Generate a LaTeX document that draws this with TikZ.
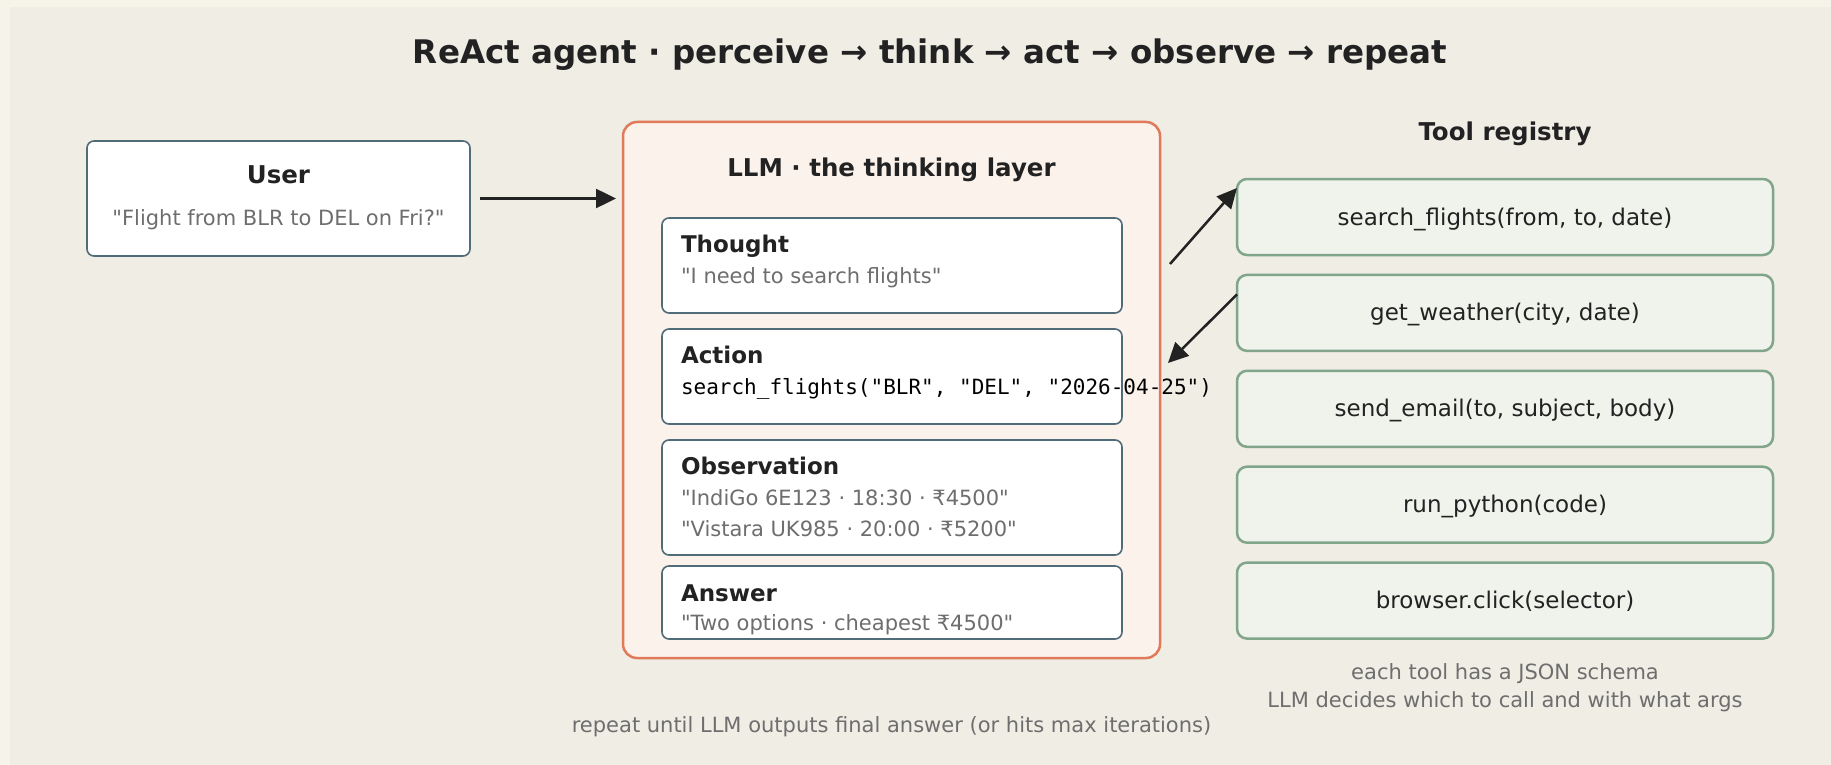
\documentclass[tikz,border=0pt]{standalone}
\usepackage{fontspec}
\setmainfont{DejaVu Sans}[Ligatures=TeXOff]
\setmonofont{DejaVu Sans Mono}
\usetikzlibrary{arrows.meta}

\definecolor{paper}{HTML}{F6F3E8}
\definecolor{panel}{HTML}{F0EDE5}
\definecolor{ink}{HTML}{222222}
\definecolor{muted}{HTML}{6E6E6E}
\definecolor{slate}{HTML}{506C78}
\definecolor{coral}{HTML}{E07A5A}
\definecolor{blush}{HTML}{FCF2EC}
\definecolor{sage}{HTML}{80A58B}
\definecolor{mint}{HTML}{EFF3EC}

\newcommand{\fsz}[1]{\fontsize{#1}{#1}\selectfont}

\begin{document}
\begin{tikzpicture}[x=1pt, y=-1pt,
            every node/.style = {inner sep = 0pt,
                                outer sep = 0pt,
                                text      = ink},
            card/.style       = {draw = slate, line width = 1.6pt,
                                fill = white, rounded corners = 7pt,
                                minimum width = 460pt},
            llmbox/.style     = {draw = coral, line width = 2.5pt,
                                fill = blush, rounded corners = 14pt},
            toolbox/.style    = {draw = sage, line width = 2.5pt,
                                fill = mint, rounded corners = 10pt,
                                minimum width  = 536pt,
                                minimum height = 76pt,
                                text height = 21pt, text depth = 5pt,
                                font = \fsz{23}},
            heading/.style    = {font = \bfseries\fsz{24.5}, anchor = base},
            label/.style      = {font = \bfseries\fsz{23}, anchor = base west},
            quote/.style      = {font = \fsz{21}, text = muted, anchor = base west},
            code/.style       = {font = \ttfamily\fsz{21}, text = black, anchor = base west},
            note/.style       = {font = \fsz{21}, text = muted, anchor = base},
            flow/.style       = {draw = ink, line width = 2.5pt,
                                -{Triangle[length = 20pt, width = 19pt]}}
            ]
    % canvas
    \fill[paper] (0,0) rectangle (1831,765);
    \fill[panel] (10,7) rectangle (1831,765);
    \useasboundingbox (0,0) rectangle (1831,765);

    \node[font = \bfseries\fsz{32.5}, anchor = base] (title) at (930,63.5)
        {ReAct agent · perceive → think → act → observe → repeat};

    % user
    \node[card, minimum width = 383pt, minimum height = 115pt] (user) at (278.5,198.5) {};
    \node[heading] (usertitle) at ([shift={(0,42)}]user.north) {User};
    \node[note] (userq) at ([shift={(0,84)}]user.north) {"Flight from BLR to DEL on Fri?"};

    % llm with the reasoning trace
    \node[llmbox, minimum width = 537pt, minimum height = 536pt] (llm) at (891.5,390) {};
    \node[heading] (llmtitle) at ([shift={(0,54)}]llm.north) {LLM · the thinking layer};

    \node[card, minimum height = 95pt]  (thought) at (892,265.5) {};
    \node[card, minimum height = 95pt]  (action)  at (892,376.5) {};
    \node[card, minimum height = 115pt] (observe) at (892,497.5) {};
    \node[card, minimum height = 73pt]  (answer)  at (892,602.5) {};

    \node[label] (thoughtlbl) at ([shift={(19,34)}]thought.north west) {Thought};
    \node[quote] (thoughttxt) at ([shift={(19,65)}]thought.north west) {"I need to search flights"};
    \node[label] (actionlbl)  at ([shift={(19,34)}]action.north west) {Action};
    \node[code]  (actiontxt)  at ([shift={(19,65)}]action.north west)
        {search\_flights("BLR", "DEL", "2026-04-25")};
    \node[label] (observelbl) at ([shift={(19,34)}]observe.north west) {Observation};
    \node[quote] (observea)   at ([shift={(19,65)}]observe.north west) {"IndiGo 6E123 · 18:30 · ₹4500"};
    \node[quote] (observeb)   at ([shift={(19,96)}]observe.north west) {"Vistara UK985 · 20:00 · ₹5200"};
    \node[label] (answerlbl)  at ([shift={(19,35)}]answer.north west) {Answer};
    \node[quote] (answertxt)  at ([shift={(19,64.5)}]answer.north west) {"Two options · cheapest ₹4500"};

    % tools
    \foreach \fn [count=\i] in {{search\_flights(from, to, date)},
                                {get\_weather(city, date)},
                                {send\_email(to, subject, body)},
                                {run\_python(code)},
                                {browser.click(selector)}}
        \node[toolbox] (t\i) at (1505,{217+95.9*(\i-1)}) {\fn};
    \node[heading] (tooltitle) at ([shift={(0,-38)}]t1.north) {Tool registry};
    \node[note] (toolnotea) at ([shift={(0,41)}]t5.south) {each tool has a JSON schema};
    \node[note] (toolnoteb) at ([shift={(0,69)}]t5.south) {LLM decides which to call and with what args};

    \node[note] (loopnote) at ([shift={(0,74)}]llm.south)
        {repeat until LLM outputs final answer (or hits max iterations)};

    % arrows
    \draw[flow] ([shift={(9.5,0)}]user.east) -- ([shift={(-7,0)}]llm.west |- user.east);
    \draw[flow] ([shift={(10,142)}]llm.north east) -- ([shift={(0,9)}]t1.north west);
    \draw[flow] ([shift={(0,19.5)}]t2.north west) -- ([shift={(8,241)}]llm.north east);
\end{tikzpicture}
\end{document}
